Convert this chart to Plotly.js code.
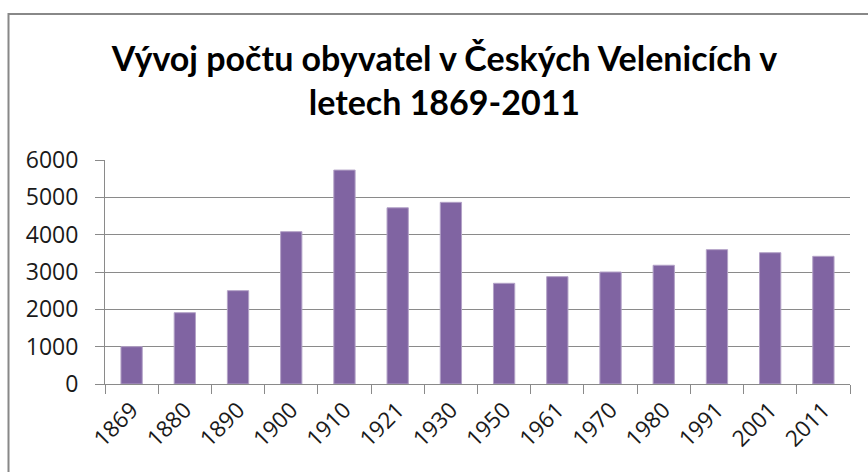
<!DOCTYPE html>
<html>
<head>
<meta charset="utf-8">
<script src="https://cdn.plot.ly/plotly-3.0.1.min.js"></script>
<style>html,body{margin:0;padding:0;background:#fff;}#chart{width:868px;height:472px;}</style>
</head>
<body>
<div id="chart"></div>
<script>
const years = ["1869","1880","1890","1900","1910","1921","1930","1950","1961","1970","1980","1991","2001","2011"];
const population = [1000, 1910, 2500, 4080, 5730, 4720, 4866, 2697, 2875, 3000, 3180, 3598, 3517, 3420];
const yTicks = [0, 1000, 2000, 3000, 4000, 5000, 6000];
const titleText = "Vývoj počtu obyvatel v Českých Velenicích v<br>letech 1869-2011";

const trace = {
  type: "bar",
  x: years,
  y: population,
  marker: {color: "#8064A2", line: {color: "#B3A2C7", width: 1}},
  hoverinfo: "x+y"
};

const gridCol = "#8a8a8a";
const layout = {
  width: 868, height: 472,
  margin: {l: 105, r: 18, t: 160, b: 88, pad: 0},
  paper_bgcolor: "#ffffff", plot_bgcolor: "#ffffff",
  showlegend: false,
  bargap: 0.6,
  font: {family: "Open Sans, sans-serif", size: 22, color: "#1a1a1a"},
  title: {
    text: titleText,
    font: {family: "Lato, sans-serif", size: 34, weight: "bold", color: "#000"},
    x: 0.512, xanchor: "center", xref: "container",
    y: 1 - 71/472, yanchor: "top", yref: "container"
  },
  xaxis: {
    type: "category",
    tickangle: -45,
    tickson: "boundaries",
    ticks: "outside", ticklen: 9, tickcolor: gridCol, tickwidth: 1,
    showline: true, linecolor: gridCol, linewidth: 1,
    showgrid: false,
    ticklabelstandoff: 3,
    tickfont: {family: "Open Sans, sans-serif", size: 22.5, color: "#1a1a1a"}
  },
  yaxis: {
    range: [0, 6000],
    tickvals: yTicks,
    ticktext: yTicks.map(String),
    ticks: "outside", ticklen: 9, tickcolor: gridCol, tickwidth: 1,
    showline: true, linecolor: gridCol, linewidth: 1,
    showgrid: true, gridcolor: gridCol, gridwidth: 1,
    zeroline: false,
    ticklabelstandoff: 12,
    tickfont: {family: "Open Sans, sans-serif", size: 23, color: "#1a1a1a"}
  },
  shapes: [{
    type: "rect", xref: "paper", yref: "paper",
    x0: (8.5 - 105) / 745, x1: 1.15,
    y0: -0.6, y1: (384 - 14) / 224,
    line: {color: "#888888", width: 2}, fillcolor: "rgba(0,0,0,0)", layer: "below"
  }]
};

Plotly.newPlot("chart", [trace], layout, {displayModeBar: false, staticPlot: true});
</script>
</body>
</html>
